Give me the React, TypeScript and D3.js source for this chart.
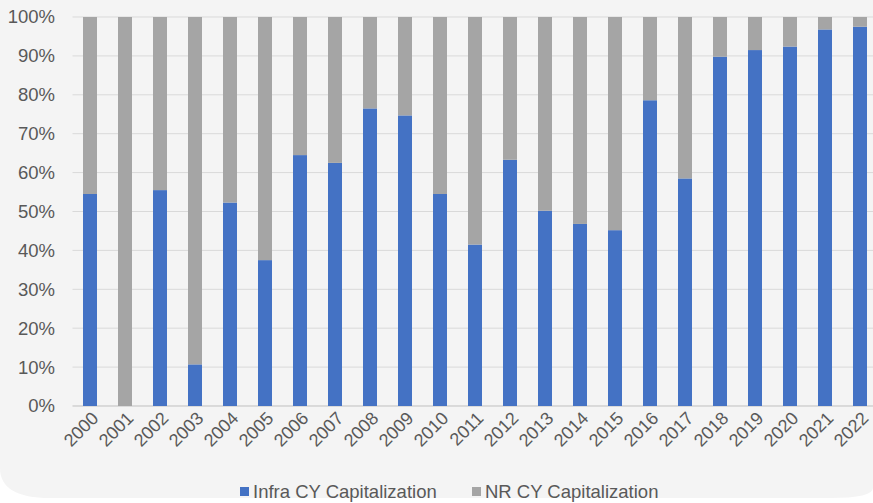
import React, { useEffect, useRef } from 'react';
import * as d3 from 'd3';

const years = [
  '2000', '2001', '2002', '2003', '2004', '2005', '2006', '2007', '2008', '2009', '2010', '2011',
  '2012', '2013', '2014', '2015', '2016', '2017', '2018', '2019', '2020', '2021', '2022',
];
// share of Infra CY Capitalization (%), NR is the rest
const infraShare = [
  54.5, 0, 55.5, 10.7, 52.3, 37.5, 64.5, 62.5, 76.5, 74.7, 54.5, 41.5,
  63.3, 50.2, 46.8, 45.2, 78.6, 58.5, 89.8, 91.5, 92.4, 96.8, 97.5,
];
const nrShare = infraShare.map((v) => 100 - v);
const yTicks = [0, 10, 20, 30, 40, 50, 60, 70, 80, 90, 100];
const seriesNames = ['Infra CY Capitalization', 'NR CY Capitalization'];
const colors = ['#4472c4', '#a5a5a5'];

const App = () => {
  const svgRef = useRef<SVGSVGElement>(null);

  useEffect(() => {
    const W = 873;
    const H = 503;
    const margin = { top: 17, left: 72.5 };
    const plotH = 389;
    const step = 35;
    const font = 'Liberation Sans, Arial, sans-serif';

    const svg = d3.select(svgRef.current);
    svg.selectAll('*').remove();

    // background card (rounded at the bottom)
    svg
      .append('path')
      .attr('d', 'M0,0 H873 V488 Q873,498 830,498 H50 Q0,498 0,468 Z')
      .attr('fill', '#f4f4f4');

    const x = d3
      .scaleBand()
      .domain(years)
      .range([margin.left, margin.left + step * years.length])
      .paddingInner(0.6)
      .paddingOuter(0.3);

    const y = d3
      .scaleLinear()
      .domain([0, 100])
      .range([margin.top + plotH, margin.top]);

    // gridlines
    svg
      .append('g')
      .selectAll('line')
      .data(yTicks)
      .join('line')
      .attr('x1', margin.left)
      .attr('x2', W)
      .attr('y1', (d) => y(d))
      .attr('y2', (d) => y(d))
      .attr('stroke', (d) => (d === 0 ? '#bfbfbf' : '#d9d9d9'))
      .attr('stroke-width', 1);

    // y labels
    svg
      .append('g')
      .selectAll('text')
      .data(yTicks)
      .join('text')
      .attr('x', 55)
      .attr('y', (d) => y(d))
      .attr('dy', '0.35em')
      .attr('text-anchor', 'end')
      .attr('fill', '#595959')
      .attr('font-family', font)
      .attr('font-size', 18.5)
      .text((d) => `${d}%`);

    // stacked bars
    const rows = years.map((yr, i) => ({ year: yr, infra: infraShare[i], nr: nrShare[i] }));
    const stack = d3.stack<any>().keys(['infra', 'nr'])(rows);

    svg
      .append('g')
      .selectAll('g')
      .data(stack)
      .join('g')
      .attr('fill', (_, i) => colors[i])
      .selectAll('rect')
      .data((d) => d)
      .join('rect')
      .attr('x', (d) => x(d.data.year)!)
      .attr('width', x.bandwidth())
      .attr('y', (d) => y(d[1]))
      .attr('height', (d) => y(d[0]) - y(d[1]));

    // x labels
    svg
      .append('g')
      .selectAll('text')
      .data(years)
      .join('text')
      .attr(
        'transform',
        (d) => `translate(${x(d)! + x.bandwidth() / 2 + 5},${margin.top + plotH + 9}) rotate(-45)`
      )
      .attr('text-anchor', 'end')
      .attr('dy', '0.35em')
      .attr('fill', '#595959')
      .attr('font-family', font)
      .attr('font-size', 18)
      .text((d) => d);

    // legend
    const legendX = [240, 472];
    const legend = svg
      .append('g')
      .selectAll('g')
      .data(seriesNames)
      .join('g')
      .attr('transform', (_, i) => `translate(${legendX[i]},${492})`);
    legend
      .append('rect')
      .attr('x', 0)
      .attr('y', -5)
      .attr('width', 9)
      .attr('height', 9)
      .attr('fill', (_, i) => colors[i]);
    legend
      .append('text')
      .attr('x', 13)
      .attr('y', 0)
      .attr('dy', '0.35em')
      .attr('fill', '#595959')
      .attr('font-family', font)
      .attr('font-size', 18.5)
      .text((d) => d);

    svg.attr('width', W).attr('height', H);
  }, []);

  return <svg ref={svgRef} style={{ position: 'absolute', left: 0, top: 0, background: '#fff' }}></svg>;
};

export default App;
